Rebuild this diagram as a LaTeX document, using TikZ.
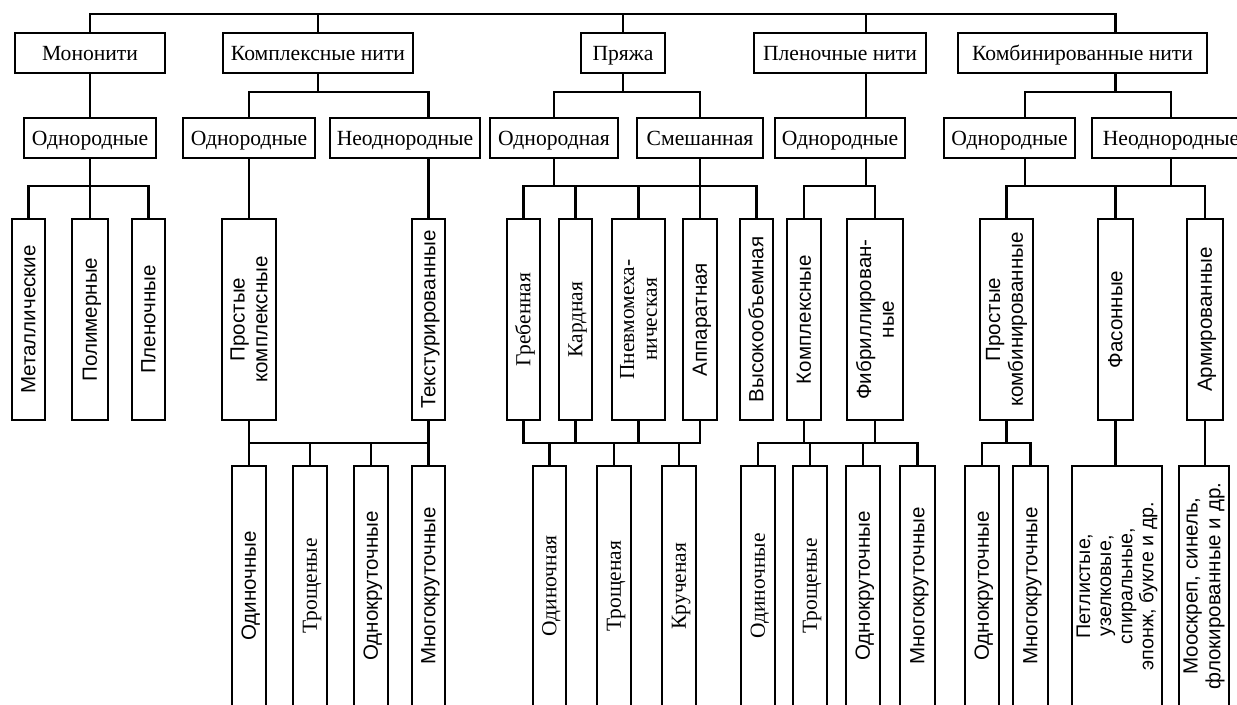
\documentclass[tikz,border=0pt]{standalone}
\usepackage{fontspec}
\setmainfont{Liberation Serif}
\newfontfamily\vsans{Liberation Sans}

\tikzset{
  hbox/.style={draw, inner sep=0pt, minimum width=#1*0.02cm, minimum height=40*0.02cm,
    text height=8.6pt, text depth=0.4pt, font=\fontsize{12.3}{14}\selectfont},
  vbox/.style 2 args={draw, inner sep=0pt, rotate=90, align=center,
    minimum width=#2*0.02cm, minimum height=#1*0.02cm,
    font=\vsans\fontsize{11.7}{13}\selectfont},
  vtop/.style={vbox={#1}{201}, text height=8.2pt, text depth=0.4pt},
  vlow/.style={vbox={#1}{240}, text height=8.2pt, text depth=0.4pt},
  rm/.style={font=\rmfamily\fontsize{12.2}{13}\selectfont},
}

\begin{document}
\begin{tikzpicture}[x=0.02cm, y=-0.02cm, line width=1.2pt] %Нити
\useasboundingbox (0,0) rectangle (1237,704);
\clip (0,0) rectangle (1237,704);

% levels of the buses
\coordinate (b0) at (0,14);
\coordinate (b1) at (0,92);
\coordinate (b2) at (0,186);
\coordinate (b3) at (0,443);
\coordinate (jplen) at (866,0);
\coordinate (jkomb) at (1025,0);

% first row
\node[hbox=150] (mono) at (90,53) {Мононити};
\node[hbox=190] (kompl) at (318,53) {Комплексные нити};
\node[hbox=84] (pry) at (623,53) {Пряжа};
\node[hbox=172] (plen) at (840,53) {Пленочные нити};
\node[hbox=249] (komb) at (1082.5,53) {Комбинированные нити};

% second row
\node[hbox=132] (monoO) at (90,138) {Однородные};
\node[hbox=132] (komplO) at (249,138) {Однородные};
\node[hbox=150] (komplN) at (405,138) {Неоднородные};
\node[hbox=128] (pryO) at (554,138) {Однородная};
\node[hbox=126] (pryS) at (700,138) {Смешанная};
\node[hbox=130] (plenO) at (840,138) {Однородные};
\node[hbox=131] (kombO) at (1009.5,138) {Однородные};
\node[hbox=158] (kombN) at (1171,138) {Неоднородные};

% third row
\node[vtop=33] (met) at (28.5,319.5) {Металлические};
\node[vtop=36] (pol) at (90,319.5) {Полимерные};
\node[vtop=33] (plenk) at (148.5,319.5) {Пленочные};
\node[vbox={54}{201}] (prostK) at (249,319.5) {Простые\\комплексные};
\node[vtop=33] (tekst) at (428.5,319.5) {Текстурированные};
\node[vtop=33, rm] (greb) at (523.5,319.5) {Гребенная};
\node[vtop=33, rm] (kard) at (575.5,319.5) {Кардная};
\node[vbox={53}{201}, rm] (pnev) at (638.5,319.5) {Пневмомеха-\\ническая};
\node[vtop=34] (appar) at (700,319.5) {Аппаратная};
\node[vtop=33] (vysok) at (756.5,319.5) {Высокообъемная};
\node[vtop=34] (komplP) at (804,319.5) {Комплексные};
\node[vbox={56}{201}] (fibr) at (875,319.5) {Фибриллирован-\\ные};
\node[vbox={53}{201}] (prostKomb) at (1006.5,319.5) {Простые\\комбинированные};
\node[vtop=35] (fas) at (1115.5,319.5) {Фасонные};
\node[vtop=36] (arm) at (1205,319.5) {Армированные};

% fourth row
\node[vlow=34] (odin1) at (249,586) {Одиночные};
\node[vlow=34, rm] (trosh1) at (310,586) {Трощеные};
\node[vlow=34] (odnok1) at (371,586) {Однокруточные};
\node[vlow=33] (mnogo1) at (428.5,586) {Многокруточные};
\node[vlow=33, rm] (odin2) at (549.5,586) {Одиночная};
\node[vlow=34, rm] (trosh2) at (614,586) {Трощеная};
\node[vlow=34, rm] (kruch) at (679,586) {Крученая};
\node[vlow=34, rm] (odin3) at (758,586) {Одиночные};
\node[vlow=34, rm] (trosh3) at (810,586) {Трощеные};
\node[vlow=34] (odnok3) at (863,586) {Однокруточные};
\node[vlow=35] (mnogo3) at (917.5,586) {Многокруточные};
\node[vlow=34] (odnok4) at (982,586) {Однокруточные};
\node[vlow=35] (mnogo4) at (1030.5,586) {Многокруточные};
\node[vbox={90}{240}, font=\vsans\fontsize{11.2}{12}\selectfont] (petl) at (1117,586)
  {Петлистые,\\узелковые,\\спиральные,\\эпонж, букле и др.};
\node[vbox={50}{240}] (moo) at (1204,586) {Мооскреп, синель,\\флокированные и др.};

% top bus
\draw (mono.north) -- (mono.north |- b0) -- (fas.east |- b0) -- (komb.north -| fas.east);
\draw (kompl.north) -- (kompl.north |- b0);
\draw (pry.north) -- (pry.north |- b0);
\draw (plen.north -| jplen) -- (jplen |- b0);

% mononiti
\draw (mono.south) -- (monoO.north);
\draw (monoO.south) -- (pol.east);
\draw (met.east) |- (plenk.east |- b2) -- (plenk.east);

% kompleksnye
\draw (kompl.south) -- (kompl.south |- b1);
\draw (komplO.north) |- (tekst.east |- b1) -- (komplN.north -| tekst.east);
\draw (komplO.south) -- (prostK.east);
\draw (komplN.south -| tekst.east) -- (tekst.east);
\draw (prostK.west) |- (tekst.west |- b3) -- (tekst.west);
\draw (odin1.east) -- (prostK.west);
\draw (mnogo1.east) -- (tekst.west);
\foreach \n in {trosh1,odnok1} \draw (\n.east) -- (\n.east |- b3);

% pryazha
\draw (pry.south) -- (pry.south |- b1);
\draw (pryO.north) |- (pryS.north |- b1) -- (pryS.north);
\draw (pryO.south) -- (pryO.south |- b2);
\draw (pryS.south) -- (appar.east);
\draw (greb.east) |- (vysok.east |- b2) -- (vysok.east);
\foreach \n in {kard,pnev} \draw (\n.east) -- (\n.east |- b2);
\draw (greb.west) |- (appar.west |- b3) -- (appar.west);
\foreach \n in {kard,pnev} \draw (\n.west) -- (\n.west |- b3);
\foreach \n in {odin2,trosh2,kruch} \draw (\n.east) -- (\n.east |- b3);

% plenochnye
\draw (plen.south -| jplen) -- (plenO.north -| jplen);
\draw (plenO.south -| jplen) -- (jplen |- b2);
\draw (komplP.east) |- (fibr.east |- b2) -- (fibr.east);
\draw (odin3.east) |- (mnogo3.east |- b3) -- (mnogo3.east);
\foreach \n in {komplP,fibr} \draw (\n.west) -- (\n.west |- b3);
\foreach \n in {trosh3,odnok3} \draw (\n.east) -- (\n.east |- b3);

% kombinirovannye
\draw (komb.south -| fas.east) -- (fas.east |- b1);
\draw (kombO.north -| jkomb) |- (kombN.north |- b1) -- (kombN.north);
\draw (kombO.south -| jkomb) -- (jkomb |- b2);
\draw (kombN.south) -- (kombN.south |- b2);
\draw (prostKomb.east) |- (arm.east |- b2) -- (arm.east);
\draw (fas.east) -- (fas.east |- b2);
\draw (prostKomb.west) -- (prostKomb.west |- b3);
\draw (odnok4.east) |- (mnogo4.east |- b3) -- (mnogo4.east);
\draw (fas.west) -- (petl.east -| fas.west);
\draw (arm.west) -- (moo.east -| arm.west);
\end{tikzpicture}
\end{document}
